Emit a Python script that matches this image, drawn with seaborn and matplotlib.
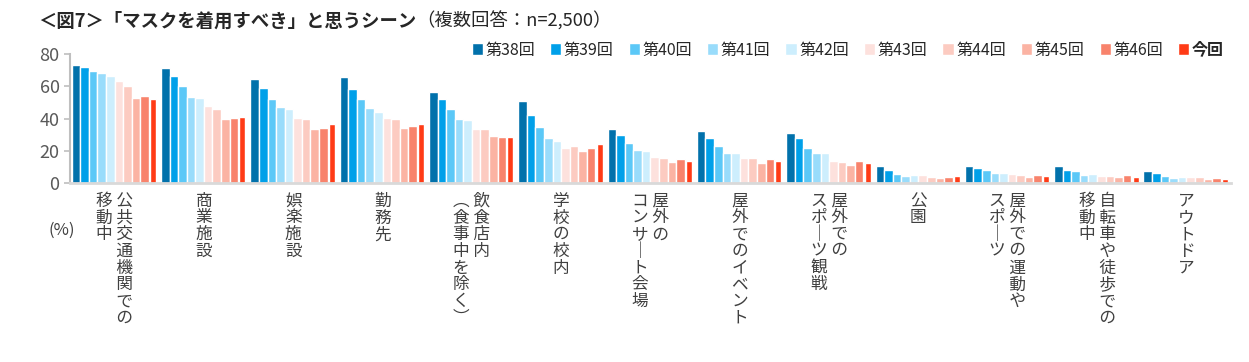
import pandas as pd
import matplotlib
matplotlib.use("Agg")
import matplotlib.pyplot as plt
import seaborn as sns

# Scenes (line breaks = columns of the vertical label, right to left)
scenes = ["公共交通機関での\n移動中", "商業施設", "娯楽施設", "勤務先",
          "飲食店内\n（食事中を除く）", "学校の校内", "屋外の\nコンサート会場",
          "屋外でのイベント", "屋外での\nスポーツ観戦", "公園",
          "屋外での運動や\nスポーツ", "自転車や徒歩での\n移動中", "アウトドア"]

rounds = ["第38回", "第39回", "第40回", "第41回", "第42回",
          "第43回", "第44回", "第45回", "第46回", "今回"]

# Values in %, one list per survey round
r38 = [73.3, 71.4, 64.6, 65.8, 56.4, 50.8, 33.3, 32.0, 30.8, 10.8, 10.8, 10.8, 7.7]
r39 = [72.1, 66.4, 58.9, 58.3, 52.0, 42.0, 29.5, 27.7, 27.7, 8.3, 9.5, 8.3, 6.4]
r40 = [69.6, 60.2, 52.0, 52.0, 45.8, 34.6, 24.5, 22.7, 22.0, 5.8, 8.3, 7.7, 4.6]
r41 = [68.3, 53.3, 47.0, 46.4, 39.6, 27.7, 20.2, 18.3, 18.3, 4.6, 6.4, 5.2, 3.3]
r42 = [66.4, 52.7, 45.8, 43.9, 38.9, 25.8, 19.6, 18.9, 18.3, 5.2, 6.4, 5.8, 3.9]
r43 = [63.1, 47.7, 40.2, 40.2, 33.3, 22.0, 16.4, 15.2, 13.9, 5.2, 5.8, 4.6, 3.9]
r44 = [60.2, 45.8, 39.6, 39.6, 33.3, 22.7, 15.8, 15.2, 13.3, 3.9, 5.2, 4.6, 3.9]
r45 = [52.7, 39.6, 33.3, 33.9, 29.0, 19.6, 13.3, 12.7, 11.4, 3.3, 3.9, 3.9, 2.7]
r46 = [53.9, 40.2, 33.9, 35.2, 28.3, 22.0, 14.6, 14.6, 13.9, 3.9, 5.2, 5.2, 3.3]
r_now = [52.1, 40.8, 36.4, 36.4, 28.3, 23.9, 13.9, 13.9, 12.1, 4.6, 4.6, 3.9, 2.7]

colors = ["#0171AB", "#00A0E9", "#5BC8F7", "#99DCFB", "#CDEEFD",
          "#FDE1DD", "#FCCBC1", "#FBB3A3", "#F8836C", "#FF3B16"]

series = [r38, r39, r40, r41, r42, r43, r44, r45, r46, r_now]
rows = []
for name, vals in zip(rounds, series):
    for scene, v in zip(scenes, vals):
        rows.append({"scene": scene, "round": name, "pct": v})
df = pd.DataFrame(rows)

sns.set_style("white")
plt.rcParams["font.family"] = ["Noto Sans CJK JP", "DejaVu Sans"]

fig = plt.figure(figsize=(12.49, 3.62), dpi=100)
ax = fig.add_axes([0.056, 0.4945, 0.9296, 0.3563])

sns.barplot(data=df, x="scene", y="pct", hue="round", order=scenes,
            hue_order=rounds, palette=colors, saturation=1, width=0.96,
            ax=ax)

# the latest round is drawn a bit narrower, as in the original
for p in ax.containers[-1]:
    w = p.get_width()
    p.set_x(p.get_x() + w * 0.15)
    p.set_width(w * 0.7)


# turn each label into stacked (vertical) characters
def vertical(label):
    swap = {"ー": "｜", "（": "︵", "）": "︶"}
    cols = [[swap.get(c, c) for c in line] for line in label.split("\n")]
    n = max(len(c) for c in cols)
    cols = [c + ["　"] * (n - len(c)) for c in cols]
    return "\n".join(" ".join(col[i] for col in reversed(cols)) for i in range(n))


ax.set_xlim(-0.5, len(scenes) - 0.5)
ax.set_ylim(0, 80)
ax.set_yticks([0, 20, 40, 60, 80])
ax.set_xticks(range(len(scenes)))
ax.set_xticklabels([vertical(s) for s in scenes], fontsize=12,
                   color="#404040", linespacing=0.98)
ax.set_xlabel("")
ax.set_ylabel("")
ax.tick_params(axis="x", length=0, pad=7)
ax.tick_params(axis="y", labelsize=13, labelcolor="#595959", left=True,
               length=4, color="#BFBFBF", width=1.2)
sns.despine(ax=ax)
ax.spines["left"].set_color("#BFBFBF")
ax.spines["left"].set_linewidth(1.5)
ax.spines["bottom"].set_color("#D9D9D9")
ax.spines["bottom"].set_linewidth(2)

sns.move_legend(ax, "center right", bbox_to_anchor=(1230 / 1249, 1 - 50 / 362),
                bbox_transform=fig.transFigure, ncol=10, frameon=False,
                title=None, fontsize=11.5, handlelength=0.7, handleheight=0.7,
                handletextpad=0.15, columnspacing=0.95, borderaxespad=0)
leg = ax.get_legend()
leg.get_texts()[-1].set_fontweight("bold")

fig.text(48 / 1249, 1 - 230 / 362, "(%)", fontsize=12, color="#404040",
         va="center")

t1 = fig.text(38 / 1249, 1 - 21 / 362, "＜図7＞「マスクを着用すべき」と思うシーン",
              fontsize=13.2, fontweight="bold", color="#262626", va="center")
ax.annotate("（複数回答：n=2,500）", xy=(1, 0.5), xycoords=t1, va="center",
            fontsize=13.2, color="#262626")

fig.savefig("out.png", dpi=100)
